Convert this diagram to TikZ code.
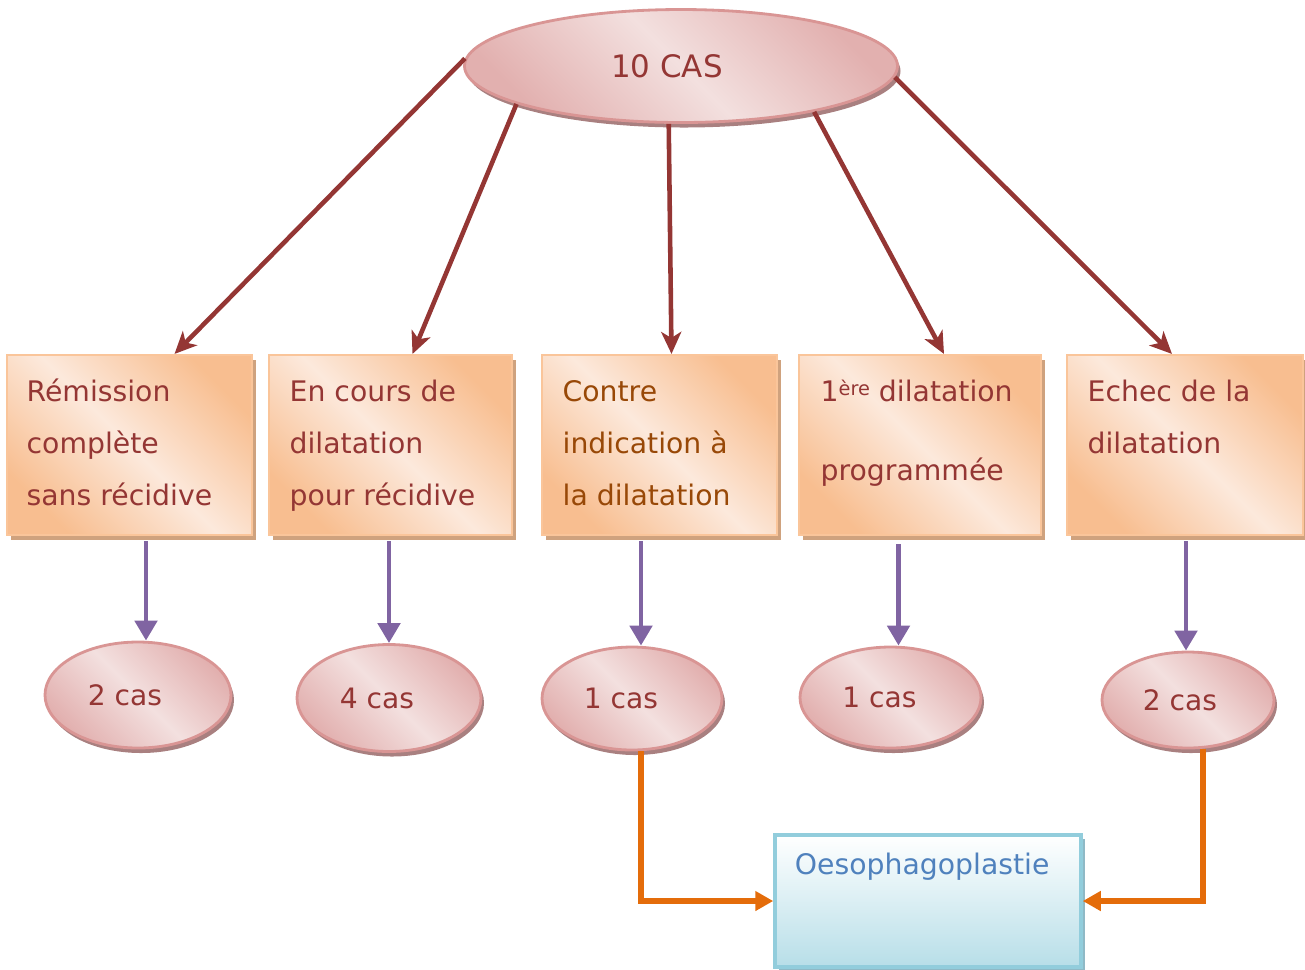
\documentclass[tikz,border=0pt]{standalone}
\usepackage{fontspec}
\setmainfont{DejaVu Sans}
\usetikzlibrary{arrows.meta}
\usetikzlibrary{shapes.geometric}
\usetikzlibrary{shadows}
\definecolor{brun}{HTML}{943634}
\definecolor{brunorange}{HTML}{984807}
\definecolor{violet}{HTML}{8064A2}
\definecolor{orangetrait}{HTML}{E46C0A}
\definecolor{bleutexte}{HTML}{4F81BD}
\definecolor{orangefonce}{HTML}{F8BE90}
\definecolor{orangeclair}{HTML}{FCE9DC}
\definecolor{orangebord}{HTML}{FAC59A}
\definecolor{orangeombre}{HTML}{CFA27E}
\definecolor{rosefonce}{HTML}{E2B0AF}
\definecolor{roseclair}{HTML}{F3E0DF}
\definecolor{rosebord}{HTML}{D99594}
\definecolor{roseombre}{HTML}{A98080}
\definecolor{bleufond}{HTML}{B7DEE8}
\definecolor{bleubord}{HTML}{92CDDC}
\definecolor{bleuombre}{HTML}{8FB9C6}

\begin{document}
\begin{tikzpicture}[
	cas/.style={ellipse, draw=rosebord, line width=0.8pt, left color=rosefonce, right color=rosefonce, middle color=roseclair, shading angle=135, drop shadow={shadow xshift=0.03cm, shadow yshift=-0.05cm, fill=roseombre, opacity=1}, inner sep=0pt, text=brun, font=\fontsize{8}{9}\selectfont},
	etape/.style={rectangle, draw=orangebord, line width=0.6pt, left color=orangefonce, right color=orangefonce, middle color=orangeclair, shading angle=135, drop shadow={shadow xshift=0.04cm, shadow yshift=-0.05cm, fill=orangeombre, opacity=1}, minimum height=1.8cm, inner sep=0pt},
	texte/.style={anchor=north west, inner sep=0pt, align=left, text=brun, font=\fontsize{8.05}{14.8}\selectfont},
	fleche/.style={draw=brun, line width=1.3pt, -{Stealth[length=0.22cm, width=0.2cm, inset=0.06cm]}},
	suite/.style={draw=violet, line width=1.4pt, -{Triangle[length=0.2cm, width=0.22cm]}},
	renvoi/.style={draw=orangetrait, line width=1.5pt, -{Triangle[length=0.18cm, width=0.19cm]}}
	]
			\useasboundingbox (0, 0) rectangle (13.05, -9.69);
			\node[cas, minimum width=4.33cm, minimum height=1.13cm, font=\fontsize{8.8}{10}\selectfont] (top) at (6.81, -0.66) {10 CAS\kern0.28cm};

			\node[etape, minimum width=2.45cm] (b1) at (1.295, -4.45) {};
			\node[etape, minimum width=2.43cm] (b2) at (3.905, -4.45) {};
			\node[etape, minimum width=2.35cm] (b3) at (6.595, -4.45) {};
			\node[etape, minimum width=2.42cm] (b4) at (9.20, -4.45) {};
			\node[etape, minimum width=2.36cm] (b5) at (11.85, -4.45) {};

			\node[texte] (t1) at ([xshift=0.2cm, yshift=-0.1cm]b1.north west) {\strut Rémission\\complète\\sans récidive};
			\node[texte] (t2) at ([xshift=0.21cm, yshift=-0.1cm]b2.north west) {\strut En cours de\\dilatation\\pour récidive};
			\node[texte, text=brunorange] (t3) at ([xshift=0.21cm, yshift=-0.1cm]b3.north west) {\strut Contre\\indication à\\la dilatation};
			\node[texte] (t4) at ([xshift=0.22cm, yshift=-0.1cm]b4.north west) {\strut 1{\fontsize{5.5}{6}\selectfont\raisebox{0.5ex}{ère}} dilatation\\[0.27cm]programmée};
			\node[texte] (t5) at ([xshift=0.21cm, yshift=-0.1cm]b5.north west) {\strut Echec de la\\dilatation};

			\node[cas, minimum width=1.86cm, minimum height=1.06cm] (e1) at (1.38, -6.95) {2 cas\kern0.26cm};
			\node[cas, minimum width=1.84cm, minimum height=1.07cm] (e2) at (3.89, -6.98) {4 cas\kern0.24cm};
			\node[cas, minimum width=1.80cm, minimum height=1.03cm] (e3) at (6.32, -6.985) {1 cas\kern0.22cm};
			\node[cas, minimum width=1.81cm, minimum height=1.01cm] (e4) at (8.905, -6.975) {1 cas\kern0.22cm};
			\node[cas, minimum width=1.72cm, minimum height=0.96cm] (e5) at (11.88, -7.0) {2 cas\kern0.16cm};

			\node[rectangle, draw=bleubord, line width=1pt, top color=white, bottom color=bleufond, drop shadow={shadow xshift=0.04cm, shadow yshift=-0.04cm, fill=bleuombre, opacity=1}, minimum width=3.06cm, minimum height=1.32cm, inner sep=0pt] (oeso) at (9.28, -9.01) {};
			\node[texte, text=bleutexte] (t6) at ([xshift=0.21cm, yshift=-0.04cm]oeso.north west) {\strut Oesophagoplastie};

			\draw[fleche] (top.178) -- ([xshift=0.45cm]b1.north);
			\draw[fleche] (top.193) -- ([xshift=0.22cm]b2.north);
			\draw[fleche] (top.258) -- ([xshift=0.12cm]b3.north);
			\draw[fleche] (top.341) -- ([xshift=0.24cm]b4.north);
			\draw[fleche] (top.357) -- ([xshift=-0.13cm]b5.north);

			\draw[suite] ([xshift=0.08cm, yshift=-0.05cm]e1.north |- b1.south) -- ([xshift=0.08cm]e1.north);
			\draw[suite] ([yshift=-0.05cm]e2.north |- b2.south) -- (e2.north);
			\draw[suite] ([xshift=0.09cm, yshift=-0.05cm]e3.north |- b3.south) -- ([xshift=0.09cm]e3.north);
			\draw[suite] ([xshift=0.08cm, yshift=-0.08cm]e4.north |- b4.south) -- ([xshift=0.08cm]e4.north);
			\draw[suite] ([xshift=-0.02cm, yshift=-0.05cm]e5.north |- b5.south) -- ([xshift=-0.02cm]e5.north);

			\draw[renvoi] ([xshift=0.09cm]e3.south) |- (oeso.west);
			\draw[renvoi] ([xshift=0.15cm]e5.south) |- (oeso.east);
\end{tikzpicture}
\end{document}
